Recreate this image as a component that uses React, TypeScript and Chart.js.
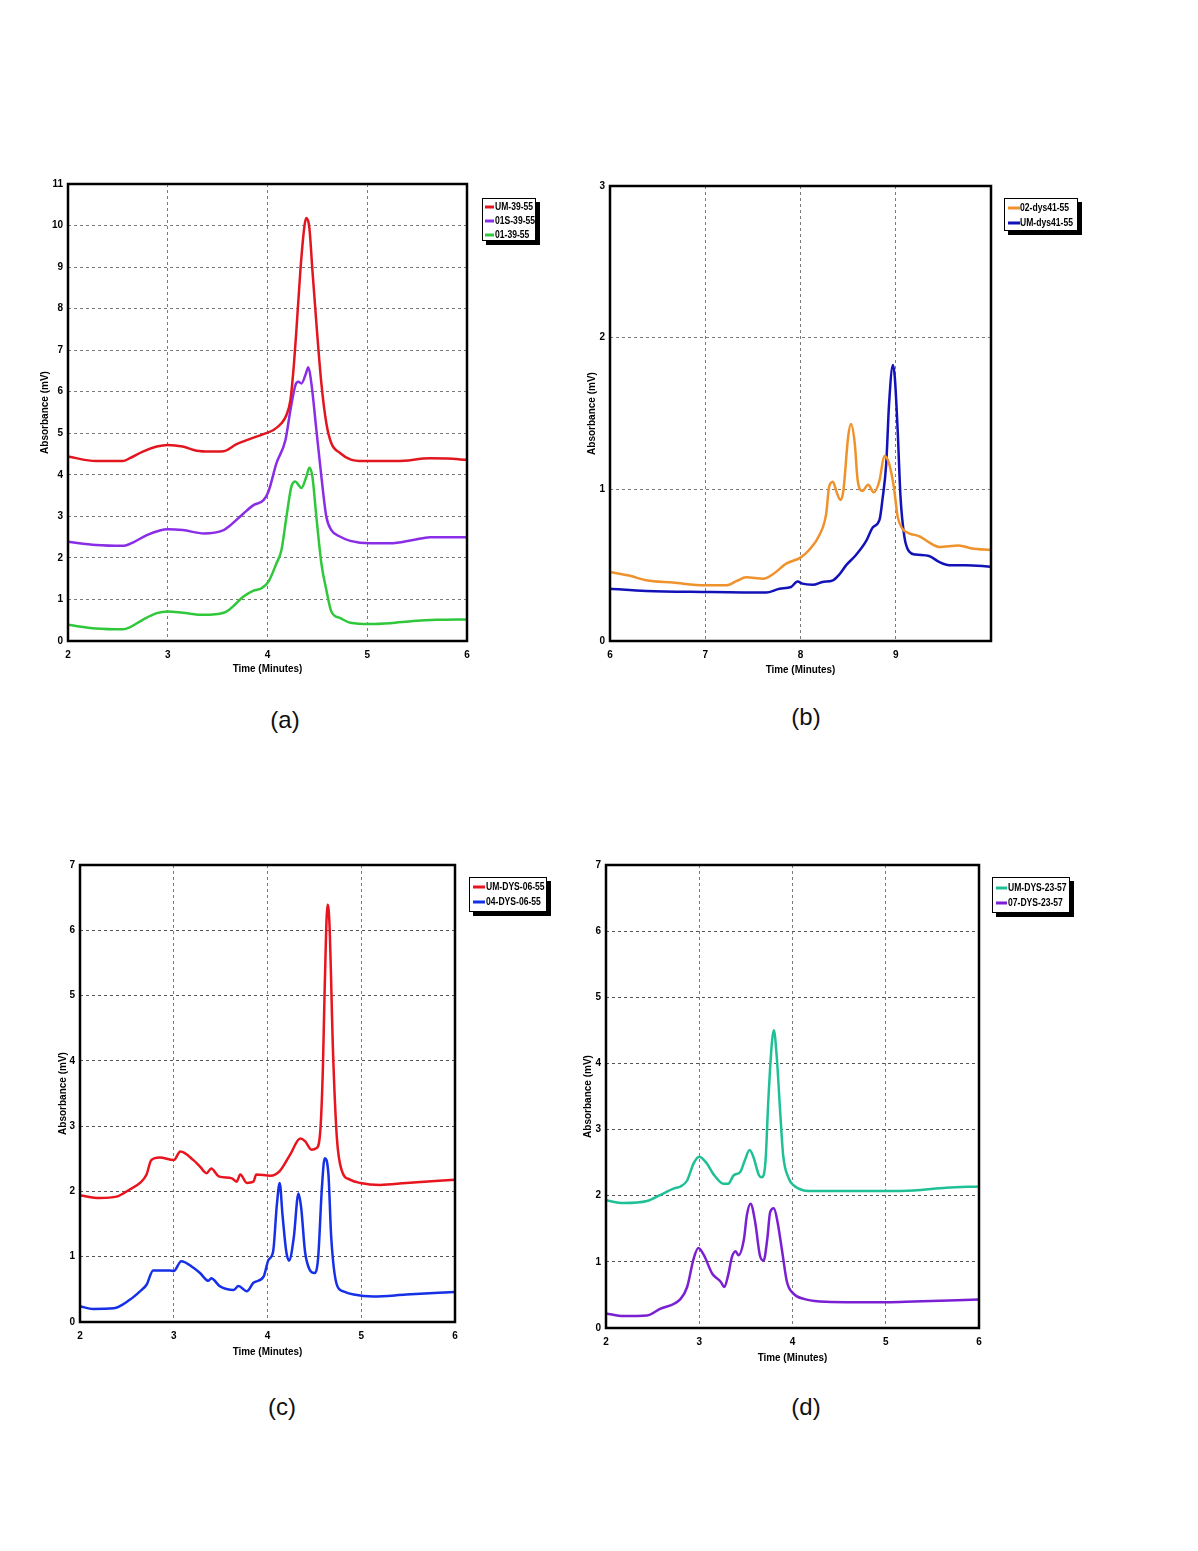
import React, { useEffect, useRef } from 'react';
import { Chart, registerables } from 'chart.js';
Chart.register(...registerables);

type Pt = [number, number];

// ---------- Panel (a) ----------
const aXTicks = [2, 3, 4, 5, 6];
const aYTicks = [0, 1, 2, 3, 4, 5, 6, 7, 8, 9, 10, 11];
const aUM_39_55: Pt[] = [
  [2.0, 4.44], [2.28, 4.33], [2.55, 4.33], [2.62, 4.4], [2.75, 4.56], [2.89, 4.68], [3.0, 4.72],
  [3.15, 4.68], [3.29, 4.58], [3.42, 4.56], [3.56, 4.57], [3.69, 4.74], [3.82, 4.86], [3.96, 4.98],
  [4.06, 5.08], [4.14, 5.24], [4.19, 5.44], [4.23, 5.8], [4.26, 6.52], [4.29, 7.49], [4.33, 8.93],
  [4.37, 9.98], [4.39, 10.18], [4.42, 9.94], [4.45, 8.93], [4.49, 7.65], [4.54, 6.2], [4.59, 5.24],
  [4.64, 4.76], [4.73, 4.52], [4.83, 4.37], [4.96, 4.33], [5.3, 4.33], [5.63, 4.4], [5.8, 4.39], [6.0, 4.36],
];
const a01S_39_55: Pt[] = [
  [2.0, 2.39], [2.28, 2.31], [2.55, 2.29], [2.65, 2.37], [2.79, 2.55], [2.92, 2.66], [3.0, 2.69],
  [3.15, 2.67], [3.36, 2.59], [3.56, 2.67], [3.62, 2.77], [3.76, 3.07], [3.86, 3.27], [3.96, 3.39],
  [4.01, 3.6], [4.09, 4.28], [4.18, 4.84], [4.23, 5.56], [4.28, 6.16], [4.31, 6.24], [4.34, 6.2],
  [4.38, 6.4], [4.41, 6.59], [4.44, 6.2], [4.49, 5.08], [4.54, 3.96], [4.59, 2.99], [4.64, 2.67],
  [4.73, 2.51], [4.83, 2.41], [5.03, 2.35], [5.23, 2.35], [5.46, 2.43], [5.63, 2.5], [6.0, 2.5],
];
const a01_39_55: Pt[] = [
  [2.0, 0.39], [2.28, 0.3], [2.55, 0.28], [2.62, 0.33], [2.75, 0.51], [2.89, 0.67], [3.0, 0.71],
  [3.15, 0.68], [3.36, 0.63], [3.56, 0.68], [3.62, 0.76], [3.76, 1.07], [3.86, 1.21], [3.94, 1.27],
  [4.01, 1.43], [4.09, 1.87], [4.14, 2.19], [4.19, 2.99], [4.24, 3.72], [4.28, 3.84], [4.31, 3.76],
  [4.34, 3.68], [4.39, 3.96], [4.42, 4.17], [4.45, 3.96], [4.49, 2.99], [4.54, 1.87], [4.59, 1.23],
  [4.64, 0.71], [4.73, 0.55], [4.83, 0.44], [5.03, 0.41], [5.23, 0.43], [5.46, 0.48], [5.7, 0.51], [6.0, 0.52],
];

// ---------- Panel (b) ----------
const bXTicks = [6, 7, 8, 9, 10];
const bXTickLabels = ['6', '7', '8', '9', ''];
const bYTicks = [0, 1, 2, 3];
const b02_dys41_55: Pt[] = [
  [6.0, 0.455], [6.21, 0.43], [6.38, 0.4], [6.66, 0.385], [7.0, 0.367], [7.22, 0.367], [7.33, 0.396],
  [7.43, 0.42], [7.61, 0.41], [7.71, 0.44], [7.85, 0.51], [8.0, 0.55], [8.09, 0.6], [8.2, 0.7],
  [8.27, 0.84], [8.3, 1.015], [8.34, 1.05], [8.38, 0.98], [8.42, 0.93], [8.45, 0.99], [8.5, 1.345],
  [8.53, 1.43], [8.57, 1.3], [8.6, 1.06], [8.65, 0.99], [8.71, 1.03], [8.77, 0.98], [8.83, 1.06],
  [8.88, 1.22], [8.93, 1.17], [8.98, 1.015], [9.02, 0.82], [9.07, 0.74], [9.14, 0.71], [9.25, 0.69],
  [9.35, 0.65], [9.46, 0.62], [9.66, 0.63], [9.8, 0.61], [10.0, 0.6],
];
const bUM_dys41_55: Pt[] = [
  [6.0, 0.345], [6.38, 0.33], [7.0, 0.323], [7.64, 0.319], [7.78, 0.345], [7.9, 0.356], [7.97, 0.393],
  [8.02, 0.378], [8.13, 0.371], [8.23, 0.389], [8.34, 0.4], [8.41, 0.44], [8.48, 0.5], [8.58, 0.565],
  [8.69, 0.66], [8.76, 0.75], [8.83, 0.8], [8.86, 0.93], [8.9, 1.17], [8.93, 1.565], [8.97, 1.82],
  [8.99, 1.74], [9.02, 1.39], [9.05, 0.95], [9.09, 0.69], [9.14, 0.59], [9.21, 0.57], [9.35, 0.56],
  [9.46, 0.52], [9.56, 0.5], [9.73, 0.5], [10.0, 0.49],
];

// ---------- Panel (c) ----------
const cXTicks = [2, 3, 4, 5, 6];
const cYTicks = [0, 1, 2, 3, 4, 5, 6, 7];
const cUM_DYS_06_55: Pt[] = [
  [2.0, 1.94], [2.21, 1.9], [2.39, 1.92], [2.53, 2.03], [2.64, 2.13], [2.71, 2.26], [2.76, 2.48],
  [2.85, 2.52], [3.0, 2.48], [3.07, 2.61], [3.21, 2.48], [3.28, 2.38], [3.35, 2.28], [3.4, 2.35],
  [3.48, 2.23], [3.62, 2.2], [3.67, 2.15], [3.71, 2.26], [3.78, 2.13], [3.85, 2.15], [3.88, 2.26],
  [4.03, 2.24], [4.13, 2.31], [4.24, 2.56], [4.35, 2.81], [4.4, 2.77], [4.47, 2.64], [4.52, 2.66],
  [4.56, 2.87], [4.59, 3.84], [4.61, 5.11], [4.64, 6.39], [4.66, 6.13], [4.7, 4.09], [4.74, 2.82],
  [4.79, 2.33], [4.88, 2.18], [4.99, 2.13], [5.2, 2.1], [5.48, 2.13], [6.0, 2.18],
];
const c04_DYS_06_55: Pt[] = [
  [2.0, 0.24], [2.14, 0.2], [2.36, 0.21], [2.53, 0.34], [2.64, 0.47], [2.71, 0.57], [2.78, 0.79],
  [2.96, 0.79], [3.0, 0.78], [3.08, 0.93], [3.21, 0.83], [3.28, 0.75], [3.37, 0.63], [3.4, 0.67],
  [3.49, 0.55], [3.64, 0.49], [3.69, 0.55], [3.78, 0.47], [3.85, 0.6], [3.96, 0.7], [4.01, 0.95],
  [4.06, 1.08], [4.1, 1.8], [4.13, 2.13], [4.16, 1.64], [4.2, 1.08], [4.23, 0.94], [4.28, 1.29],
  [4.33, 1.97], [4.36, 1.74], [4.4, 1.08], [4.45, 0.8], [4.5, 0.75], [4.54, 0.98], [4.58, 2.05],
  [4.61, 2.51], [4.65, 2.26], [4.68, 1.29], [4.74, 0.57], [4.81, 0.47], [4.92, 0.42], [5.13, 0.39],
  [5.48, 0.42], [6.0, 0.46],
];

// ---------- Panel (d) ----------
const dXTicks = [2, 3, 4, 5, 6];
const dYTicks = [0, 1, 2, 3, 4, 5, 6, 7];
const dUM_DYS_23_57: Pt[] = [
  [2.0, 1.93], [2.19, 1.89], [2.44, 1.92], [2.58, 2.01], [2.73, 2.11], [2.8, 2.14], [2.87, 2.23],
  [2.94, 2.49], [3.0, 2.59], [3.08, 2.49], [3.15, 2.33], [3.26, 2.18], [3.31, 2.18], [3.37, 2.31],
  [3.44, 2.36], [3.49, 2.54], [3.54, 2.69], [3.58, 2.59], [3.64, 2.31], [3.67, 2.28], [3.71, 2.51],
  [3.74, 3.42], [3.78, 4.33], [3.8, 4.5], [3.83, 4.12], [3.87, 3.22], [3.9, 2.61], [3.96, 2.26],
  [4.01, 2.16], [4.12, 2.08], [4.23, 2.07], [4.58, 2.07], [5.01, 2.07], [5.3, 2.08], [5.65, 2.12], [6.0, 2.14],
];
const d07_DYS_23_57: Pt[] = [
  [2.0, 0.22], [2.19, 0.18], [2.44, 0.19], [2.58, 0.29], [2.8, 0.44], [2.87, 0.62], [2.94, 1.05],
  [2.99, 1.21], [3.05, 1.1], [3.14, 0.82], [3.23, 0.7], [3.27, 0.62], [3.31, 0.8], [3.35, 1.07],
  [3.39, 1.16], [3.42, 1.1], [3.48, 1.35], [3.51, 1.7], [3.55, 1.88], [3.6, 1.6], [3.65, 1.1],
  [3.69, 1.02], [3.73, 1.35], [3.76, 1.75], [3.8, 1.81], [3.84, 1.6], [3.89, 1.15], [3.94, 0.7],
  [4.01, 0.52], [4.12, 0.44], [4.3, 0.4], [4.58, 0.39], [5.01, 0.39], [5.3, 0.4], [6.0, 0.43],
];

// ---------- Styling / layout ----------
interface Series { label: string; color: string; data: Pt[] }
interface PanelSpec {
  caption: string;
  capX: number; capY: number;
  plot: { l: number; t: number; r: number; b: number };
  xMin: number; xMax: number; yMax: number;
  xTicks: number[]; xTickLabels?: string[]; yTicks: number[];
  series: Series[];
  legend: { x: number; y: number; w: number; h: number; rowY: number[]; s0: number; s1: number; tx: number };
  yTitle: string; yTitleDx: number; xTitleDy: number;
  hGrid: string; vGrid: string;
}

const PADL = 50, PADT = 15, PADR = 130, PADB = 45;
const SANS = "'Liberation Sans', Arial, sans-serif";
const CONDENSE = 0.78;

const panels: PanelSpec[] = [
  {
    caption: '(a)', capX: 285, capY: 720,
    plot: { l: 68, t: 184, r: 467, b: 641 },
    xMin: 2, xMax: 6, yMax: 11, xTicks: aXTicks, yTicks: aYTicks,
    series: [
      { label: 'UM-39-55', color: '#e2161f', data: aUM_39_55 },
      { label: '01S-39-55', color: '#8a2de6', data: a01S_39_55 },
      { label: '01-39-55', color: '#30c83a', data: a01_39_55 },
    ],
    legend: { x: 482, y: 198, w: 54, h: 43, rowY: [207, 221, 235], s0: 485, s1: 494, tx: 495 },
    yTitle: 'Absorbance (mV)', yTitleDx: 23, xTitleDy: 28,
    hGrid: '#7a7a7a', vGrid: '#7a7a7a',
  },
  {
    caption: '(b)', capX: 806, capY: 717,
    plot: { l: 610, t: 186, r: 991, b: 641 },
    xMin: 6, xMax: 10, yMax: 3, xTicks: bXTicks, xTickLabels: bXTickLabels, yTicks: bYTicks,
    series: [
      { label: '02-dys41-55', color: '#f0922c', data: b02_dys41_55 },
      { label: 'UM-dys41-55', color: '#1212b8', data: bUM_dys41_55 },
    ],
    legend: { x: 1004, y: 198, w: 74, h: 33, rowY: [208, 223], s0: 1008, s1: 1020, tx: 1020 },
    yTitle: 'Absorbance (mV)', yTitleDx: 18, xTitleDy: 29,
    hGrid: '#7a7a7a', vGrid: '#7a7a7a',
  },
  {
    caption: '(c)', capX: 282, capY: 1407,
    plot: { l: 80, t: 865, r: 455, b: 1322 },
    xMin: 2, xMax: 6, yMax: 7, xTicks: cXTicks, yTicks: cYTicks,
    series: [
      { label: 'UM-DYS-06-55', color: '#e8141e', data: cUM_DYS_06_55 },
      { label: '04-DYS-06-55', color: '#1530e6', data: c04_DYS_06_55 },
    ],
    legend: { x: 469, y: 877, w: 78, h: 35, rowY: [887, 902], s0: 473, s1: 485, tx: 486 },
    yTitle: 'Absorbance (mV)', yTitleDx: 17, xTitleDy: 30,
    hGrid: '#555555', vGrid: '#7a7a7a',
  },
  {
    caption: '(d)', capX: 806, capY: 1407,
    plot: { l: 606, t: 865, r: 979, b: 1328 },
    xMin: 2, xMax: 6, yMax: 7, xTicks: dXTicks, yTicks: dYTicks,
    series: [
      { label: 'UM-DYS-23-57', color: '#20c096', data: dUM_DYS_23_57 },
      { label: '07-DYS-23-57', color: '#7a1fd2', data: d07_DYS_23_57 },
    ],
    legend: { x: 992, y: 877, w: 78, h: 36, rowY: [888, 903], s0: 996, s1: 1007, tx: 1008 },
    yTitle: 'Absorbance (mV)', yTitleDx: 18, xTitleDy: 30,
    hGrid: '#555555', vGrid: '#7a7a7a',
  },
];

function Panel({ spec }: { spec: PanelSpec }) {
  const ref = useRef<HTMLCanvasElement | null>(null);
  const { l, t, r, b } = spec.plot;
  const cLeft = l - PADL, cTop = t - PADT;
  const cW = r - l + PADL + PADR, cH = b - t + PADT + PADB;

  useEffect(() => {
    if (!ref.current) return;
    const decor = {
      id: 'decor',
      afterDraw(chart: any) {
        const ctx = chart.ctx as CanvasRenderingContext2D;
        const ca = chart.chartArea;
        ctx.save();
        // frame
        ctx.strokeStyle = '#000';
        ctx.lineWidth = 2.5;
        ctx.strokeRect(ca.left, ca.top, ca.right - ca.left, ca.bottom - ca.top);
        // y title
        ctx.fillStyle = '#000';
        ctx.font = `bold 10px ${SANS}`;
        ctx.textAlign = 'center';
        ctx.textBaseline = 'middle';
        ctx.save();
        ctx.translate(ca.left - spec.yTitleDx, (ca.top + ca.bottom) / 2);
        ctx.rotate(-Math.PI / 2);
        ctx.fillText(spec.yTitle, 0, 0);
        ctx.restore();
        // x title (slightly condensed)
        ctx.save();
        ctx.translate((ca.left + ca.right) / 2, ca.bottom + spec.xTitleDy);
        ctx.scale(0.9, 1);
        ctx.font = `bold 11px ${SANS}`;
        ctx.fillText('Time (Minutes)', 0, 0);
        ctx.restore();
        // legend
        const lg = spec.legend;
        const lx = lg.x - cLeft, ly = lg.y - cTop;
        ctx.fillStyle = '#000';
        ctx.fillRect(lx + 4, ly + 4, lg.w, lg.h);
        ctx.fillStyle = '#fff';
        ctx.fillRect(lx, ly, lg.w, lg.h);
        ctx.strokeStyle = '#000';
        ctx.lineWidth = 1;
        ctx.strokeRect(lx + 0.5, ly + 0.5, lg.w - 1, lg.h - 1);
        ctx.textAlign = 'left';
        spec.series.forEach((s, i) => {
          const yy = lg.rowY[i] - cTop;
          ctx.strokeStyle = s.color;
          ctx.lineWidth = 3;
          ctx.beginPath();
          ctx.moveTo(lg.s0 - cLeft, yy);
          ctx.lineTo(lg.s1 - cLeft, yy);
          ctx.stroke();
          ctx.save();
          ctx.translate(lg.tx - cLeft, yy);
          ctx.scale(CONDENSE, 1);
          ctx.fillStyle = '#000';
          ctx.font = `bold 11px ${SANS}`;
          ctx.fillText(s.label, 0, 0);
          ctx.restore();
        });
        ctx.restore();
      },
    };

    const tickFont = { family: SANS, size: 10, weight: 'bold' as const };
    const chart = new Chart(ref.current, {
      type: 'line',
      data: {
        datasets: spec.series.map((s) => ({
          label: s.label,
          data: s.data.map(([x, y]) => ({ x, y })),
          borderColor: s.color,
          backgroundColor: s.color,
          borderWidth: 2.5,
          pointRadius: 0,
          fill: false,
          cubicInterpolationMode: 'monotone' as const,
        })),
      },
      options: {
        animation: false,
        responsive: false,
        maintainAspectRatio: false,
        devicePixelRatio: 1,
        layout: { padding: { left: 0, top: PADT, right: PADR, bottom: 0 } },
        plugins: { legend: { display: false }, tooltip: { enabled: false } },
        scales: {
          x: {
            type: 'linear',
            min: spec.xMin,
            max: spec.xMax,
            afterFit: (s: any) => { s.height = PADB; },
            afterBuildTicks: (s: any) => { s.ticks = spec.xTicks.map((v) => ({ value: v })); },
            ticks: {
              color: '#000',
              font: tickFont,
              padding: 8,
              maxRotation: 0,
              autoSkip: false,
              callback: (v: any, i: number) => (spec.xTickLabels ? spec.xTickLabels[i] : String(v)),
            },
            grid: { color: spec.vGrid, lineWidth: 1, drawTicks: false },
            border: { display: false, dash: [3, 3] },
          },
          y: {
            type: 'linear',
            min: 0,
            max: spec.yMax,
            afterFit: (s: any) => { s.width = PADL; },
            afterBuildTicks: (s: any) => { s.ticks = spec.yTicks.map((v) => ({ value: v })); },
            ticks: { color: '#000', font: tickFont, padding: 5, autoSkip: false },
            grid: { color: spec.hGrid, lineWidth: 1, drawTicks: false },
            border: { display: false, dash: [3, 3] },
          },
        },
      },
      plugins: [decor],
    } as any);
    return () => chart.destroy();
  }, [spec]);

  return (
    <>
      <canvas
        ref={ref}
        width={cW}
        height={cH}
        style={{ position: 'absolute', left: cLeft, top: cTop, width: cW, height: cH }}
      />
      <div
        style={{
          position: 'absolute', left: spec.capX, top: spec.capY, transform: 'translate(-50%, -50%)',
          fontFamily: SANS, fontSize: 24, color: '#111',
        }}
      >
        {spec.caption}
      </div>
    </>
  );
}

export default function App() {
  return (
    <div style={{ position: 'absolute', left: 0, top: 0, width: 1198, height: 1551, background: '#fff' }}>
      {panels.map((p) => <Panel key={p.caption} spec={p} />)}
    </div>
  );
}
